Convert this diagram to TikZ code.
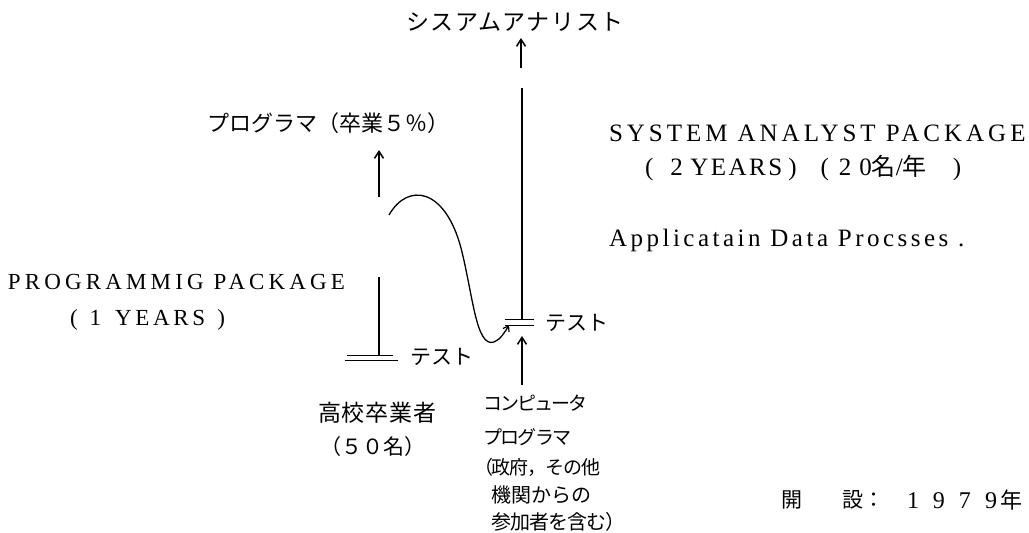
\documentclass[tikz,border=0pt]{standalone}
\usepackage{fontspec}
\setmainfont{Liberation Serif}
\newfontfamily\jpfam{Noto Sans CJK JP}
\usetikzlibrary{arrows.meta}
\newcommand\jpf[2]{\jpfam\fontsize{#1}{#1}\selectfont\addfontfeature{LetterSpace=#2}}
\newcommand\latf[2]{\rmfamily\fontsize{#1}{#1}\selectfont\addfontfeature{LetterSpace=#2}}
\tikzset{
  lbl/.style={inner sep=0pt, outer sep=0pt, anchor=west},
  conn/.style={line width=1.5pt},
  arr/.style={line width=1.5pt, -{Straight Barb[length=7pt,width=9pt,line width=1.5pt]}},
  testline/.style={line width=1pt},
}
\begin{document}
\begin{tikzpicture}[x=1pt,y=-1pt]
\useasboundingbox (0,0) rectangle (1029,533);
% top
\node[lbl, font=\jpf{23}{7}] (sa) at (406,22) {シスアムアナリスト};
\coordinate (ta1) at (521,68);
\coordinate (ta2) at (521,38);
\draw[arr] (ta1) -- (ta2);
\coordinate (rv1) at (522,88);
\coordinate (rv2) at (522,319);
\draw[conn] (rv2) -- (rv1);
% right test
\coordinate (rt1) at (505,319);
\coordinate (rt2) at (534,319);
\coordinate (rt3) at (505,325);
\coordinate (rt4) at (534,325);
\draw[testline] (rt1) -- (rt2) (rt3) -- (rt4);
\node[lbl, font=\jpf{21}{0}] (rtest) at (545,323) {テスト};
% computer programmer arrow
\coordinate (ca1) at (522,385);
\coordinate (ca2) at (522,336);
\draw[arr] (ca1) -- (ca2);
\node[lbl, font=\jpf{19}{-10}] (c1) at (483,403) {コンピュータ};
\node[lbl, font=\jpf{19}{-8}] (c2) at (483,437) {プログラマ};
\node[lbl, font=\jpf{19}{-6}] (c3) at (474,467) {（政府，その他};
\node[lbl, font=\jpf{20}{0}] (c4) at (491,495) {機関からの};
\node[lbl, font=\jpf{20}{-5}] (c5) at (491,522) {参加者を含む）};
% programmer
\node[lbl, font=\jpf{22}{0}] (prog) at (207,123) {プログラマ（卒業５％）};
\coordinate (la1) at (379,197);
\coordinate (la2) at (379,150);
\draw[arr] (la1) -- (la2);
% curve
\coordinate (cs) at (389,215);
\coordinate (ce) at (509,325);
\draw[line width=1.3pt, -{Straight Barb[length=5pt,width=7pt,line width=1.2pt]}]
  (cs) .. controls (408,182) and (445,188) .. (461,248)
  .. controls (473,295) and (476,348) .. (494,342)
  .. controls (500,340) and (505,332) .. (ce);
% left vertical + test
\coordinate (lv1) at (379,277);
\coordinate (lv2) at (379,355);
\draw[conn] (lv1) -- (lv2);
\coordinate (lt1) at (347,355);
\coordinate (lt2) at (393,355);
\coordinate (lt3) at (345,360);
\coordinate (lt4) at (398,360);
\draw[testline] (lt1) -- (lt2) (lt3) -- (lt4);
\node[lbl, font=\jpf{21}{0}] (ltest) at (410,357) {テスト};
% left texts
\node[lbl, font=\latf{23}{18}] (pp) at (8,282) {PROGRAMMIG\hspace{10pt}PACKAGE};
\node[lbl, font=\latf{23}{16}] (py) at (70,320) {(\hspace{12pt}1\hspace{14pt}YEARS\hspace{12pt})};
\node[lbl, font=\jpf{23}{4}] (hs) at (318,413) {高校卒業者};
\node[lbl, font=\jpf{21}{0}] (hs2) at (320,447) {（５０名）};
% right texts
\node[lbl, font=\latf{25}{16}] (sap) at (609,133) {SYSTEM\hspace{10pt}ANALYST\hspace{10pt}PACKAGE};
\node[lbl, font=\latf{25}{0}] (say) at (645,168) {(\hspace{17pt}2\hspace{7.5pt}{\addfontfeature{LetterSpace=10}YEARS}\hspace{6pt})\hspace{24pt}(\hspace{10pt}2\hspace{8pt}0{\jpf{24}{0}名}/{\jpf{24}{0}年}\hspace{26pt})};
\node[lbl, font=\latf{25}{14}] (adp) at (609,240) {Applicatain Data Procsses .};
% opening
\node[lbl, font=\jpf{21}{0}] (k1) at (781,500) {開};
\node[lbl, font=\jpf{21}{0}] (k2) at (842,500) {設：};
\node[lbl, font=\latf{24}{0}] (k3) at (907,500) {1\hspace{14pt}9\hspace{14pt}7\hspace{14pt}9\hspace{3pt}{\jpf{22}{0}年}};
\end{tikzpicture}
\end{document}
